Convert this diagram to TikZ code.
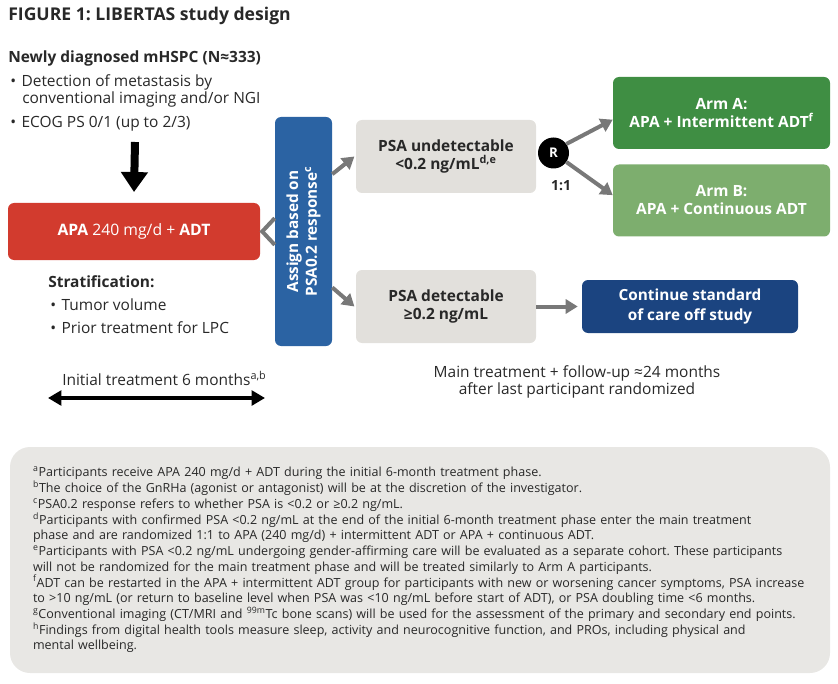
\documentclass[tikz,border=0pt]{standalone}
\usepackage{fontspec}
\setmainfont{Open Sans}
\usepackage{tikz}
\usetikzlibrary{arrows.meta}

\newcommand{\bul}{\makebox[8.5pt][l]{\textbullet}}
\newcommand{\sups}[1]{\textsuperscript{#1}}
\frenchspacing

\begin{document}
\begin{tikzpicture}[x=0.75pt, y=-0.75pt,
  every node/.style={inner sep=0pt, text=inkGray, font=\fontsize{11.6}{12.75}\selectfont},
  txtline/.style={anchor=base west},
  headfont/.style={font=\fontsize{11.6}{15}\selectfont\bfseries},
  stepbox/.style={rounded corners=4.5pt, align=center, font=\fontsize{11.6}{13.5}\selectfont\bfseries},
  psabox/.style={stepbox, fill=psaGray, minimum width=135pt, minimum height=54.75pt},
  armbox/.style={stepbox, text=white, minimum width=162.75pt, minimum height=54pt, font=\fontsize{11.6}{13.5}\selectfont\bfseries},
  grayarrow/.style={draw=arrowGray, line width=3pt, -{Triangle[length=9pt,width=10.5pt]}}]

% Colores
\definecolor{inkGray}{RGB}{40,40,40}
\definecolor{apaRed}{RGB}{210,59,46}
\definecolor{assignBlue}{RGB}{43,99,163}
\definecolor{psaGray}{RGB}{226,224,220}
\definecolor{armAGreen}{RGB}{63,142,67}
\definecolor{armBGreen}{RGB}{125,174,110}
\definecolor{careNavy}{RGB}{27,68,128}
\definecolor{arrowGray}{RGB}{120,120,120}
\definecolor{noteGray}{RGB}{232,231,228}

\useasboundingbox (0,0) rectangle (838,684);

% Title
\node[txtline, font=\fontsize{13.2}{15}\selectfont\bfseries] (title) at (8,21) {FIGURE 1: LIBERTAS study design};

% Population
\node[txtline, headfont] (pop) at (8,63) {Newly diagnosed mHSPC (N≈333)};
\node[txtline] (crit1) at (10,87) {\bul Detection of metastasis by};
\node[txtline] (crit1b) at (22,104) {conventional imaging and/or NGI};
\node[txtline] (crit2) at (10,128) {\bul ECOG PS 0/1 (up to 2/3)};
\coordinate (popEnd) at (135,142);

% Initial treatment
\node[stepbox, fill=apaRed, text=white, font=\fontsize{11.8}{14}\selectfont, minimum width=189pt, minimum height=42.75pt] (apa) at (134,231.5) {\textbf{APA} 240 mg/d + \textbf{ADT}};
\draw[line width=6pt, -{Triangle[length=15pt,width=19.5pt]}] (popEnd) -- ([yshift=8pt]apa.north);

% Assignment
\node[stepbox, fill=assignBlue, text=white, rotate=90, minimum width=171.75pt, minimum height=42.75pt, font=\fontsize{11.5}{14}\selectfont\bfseries] (assign) at (303.5,231.5) {Assign based on\\PSA0.2 response\sups{c}};
\draw[arrowGray, line width=3pt] ([yshift=10pt]assign.north) -- ([xshift=1.5pt]apa.east) -- ([yshift=-10pt]assign.north);

% PSA response
\node[psabox] (undet) at (446,156.5) {PSA undetectable\\<0.2 ng/mL\sups{d,e}};
\node[psabox] (det) at (446,306.5) {PSA detectable\\≥0.2 ng/mL};
\draw[grayarrow] ([yshift=43pt]assign.south) -- ([xshift=-1pt]undet.west);
\draw[grayarrow] ([yshift=-42pt]assign.south) -- ([xshift=-1pt]det.west);

% Randomization
\node[circle, fill=black, text=white, minimum size=23.25pt, font=\fontsize{10}{12}\selectfont\bfseries] (rand) at (553.5,153) {R};
\node[font=\fontsize{10.5}{12}\selectfont\bfseries] (ratio) at (561,186) {1:1};
\node[armbox, fill=armAGreen] (armA) at (721.5,113) {Arm A:\\APA + Intermittent ADT\sups{f}};
\node[armbox, fill=armBGreen] (armB) at (721.5,200.5) {Arm B:\\APA + Continuous ADT};
\draw[grayarrow] (rand.35) -- ([yshift=-5pt]armA.west);
\draw[grayarrow] (rand.-35) -- ([yshift=4pt]armB.west);

% Off study
\node[stepbox, fill=careNavy, text=white, minimum width=162pt, minimum height=39.75pt, font=\fontsize{11.5}{14.6}\selectfont\bfseries] (care) at (690,306.5) {Continue standard\\of care off study};
\draw[grayarrow] (det.east) -- ([xshift=-3pt]care.west);

% Stratification
\node[txtline, font=\fontsize{11.6}{12.75}\selectfont\bfseries] (strat) at (48,287) {Stratification:};
\node[txtline] (strat1) at (50,310) {\bul Tumor volume};
\node[txtline] (strat2) at (50,333) {\bul Prior treatment for LPC};

% Timeline
\node[txtline] (initial) at (62,385) {Initial treatment 6 months\sups{a,b}};
\coordinate (iniL) at (48,398);
\coordinate (iniR) at (265,398);
\draw[line width=2.5pt, {Triangle[length=10pt,width=11pt]}-{Triangle[length=10pt,width=11pt]}] (iniL) -- (iniR);
\node[align=center] (follow) at (577,382) {Main treatment + follow-up ≈24 months\\after last participant randomized};

% Footnotes
\node[fill=noteGray, rounded corners=15pt, text width=580.5pt, inner xsep=17.25pt, minimum height=169.5pt, align=left, font=\fontsize{9.4}{11.8}\selectfont] (notes) at (420,560) {%
\sups{a}Participants receive APA 240 mg/d + ADT during the initial 6-month treatment phase.\\
\sups{b}The choice of the GnRHa (agonist or antagonist) will be at the discretion of the investigator.\\
\sups{c}PSA0.2 response refers to whether PSA is <0.2 or ≥0.2 ng/mL.\\
\sups{d}Participants with confirmed PSA <0.2 ng/mL at the end of the initial 6-month treatment phase enter the main treatment\\
phase and are randomized 1:1 to APA (240 mg/d) + intermittent ADT or APA + continuous ADT.\\
\sups{e}Participants with PSA <0.2 ng/mL undergoing gender-affirming care will be evaluated as a separate cohort. These participants\\
will not be randomized for the main treatment phase and will be treated similarly to Arm A participants.\\
\sups{f}ADT can be restarted in the APA + intermittent ADT group for participants with new or worsening cancer symptoms, PSA increase\\
to >10 ng/mL (or return to baseline level when PSA was <10 ng/mL before start of ADT), or PSA doubling time <6 months.\\
\sups{g}Conventional imaging (CT/MRI and \sups{99m}Tc bone scans) will be used for the assessment of the primary and secondary end points.\\
\sups{h}Findings from digital health tools measure sleep, activity and neurocognitive function, and PROs, including physical and\\
mental wellbeing.};

\end{tikzpicture}
\end{document}
